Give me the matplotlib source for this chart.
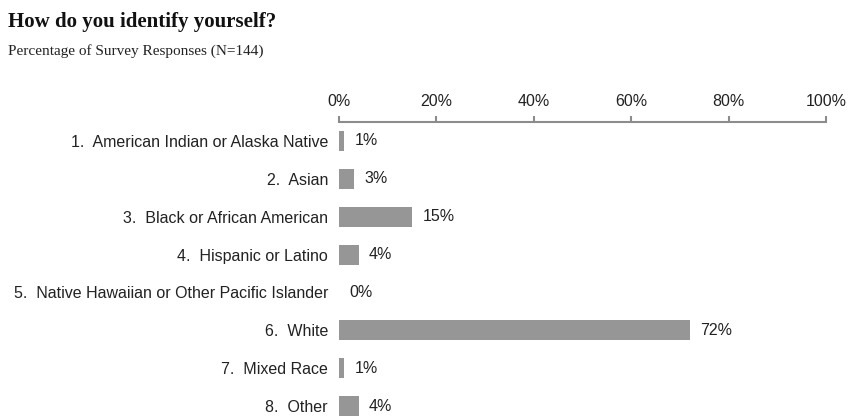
import matplotlib.pyplot as plt

## Data
categories = ["1.  American Indian or Alaska Native", "2.  Asian", "3.  Black or African American",
              "4.  Hispanic or Latino", "5.  Native Hawaiian or Other Pacific Islander",
              "6.  White", "7.  Mixed Race", "8.  Other"]
percents = [1, 3, 15, 4, 0, 72, 1, 4]
tick_values = [0, 20, 40, 60, 80, 100]
tick_labels = ["0%", "20%", "40%", "60%", "80%", "100%"]

plt.rcParams['font.family'] = ['Liberation Sans', 'DejaVu Sans']

fig = plt.figure(figsize=(8.48, 4.17), dpi=100)
ax = fig.add_axes([0.3998, 0.0, 0.5742, 0.7074])

y_pos = list(range(len(categories)))
ax.barh(y_pos, percents, height=0.53, color="#969696")

# value labels next to each bar
for y, v in zip(y_pos, percents):
    ax.annotate(str(v) + "%", (v, y), xytext=(7.5, 0), textcoords="offset points",
                va="center", ha="left", fontsize=11.5, color="#222222")

ax.set_xlim(0, 100)
ax.set_ylim(7.29, -0.5)
ax.set_yticks(y_pos)
ax.set_yticklabels(categories, fontsize=11.5, color="#222222")
ax.tick_params(axis="y", length=0, pad=8)

ax.xaxis.tick_top()
ax.set_xticks(tick_values)
ax.set_xticklabels(tick_labels, fontsize=11.5, color="#222222")
ax.tick_params(axis="x", direction="out", length=4.5, width=1.5, color="#8c8c8c", pad=5)

for s in ["right", "bottom", "left"]:
    ax.spines[s].set_visible(False)
ax.spines["top"].set_color("#8c8c8c")
ax.spines["top"].set_linewidth(1.5)

# title and subtitle
fig.text(0.009, 0.935, "How do you identify yourself?", fontsize=15, fontweight="bold",
         family="Liberation Serif", color="#111111")
fig.text(0.009, 0.868, "Percentage of Survey Responses (N=144)", fontsize=11,
         family="Liberation Serif", color="#222222")

plt.savefig("out.png", dpi=100)
